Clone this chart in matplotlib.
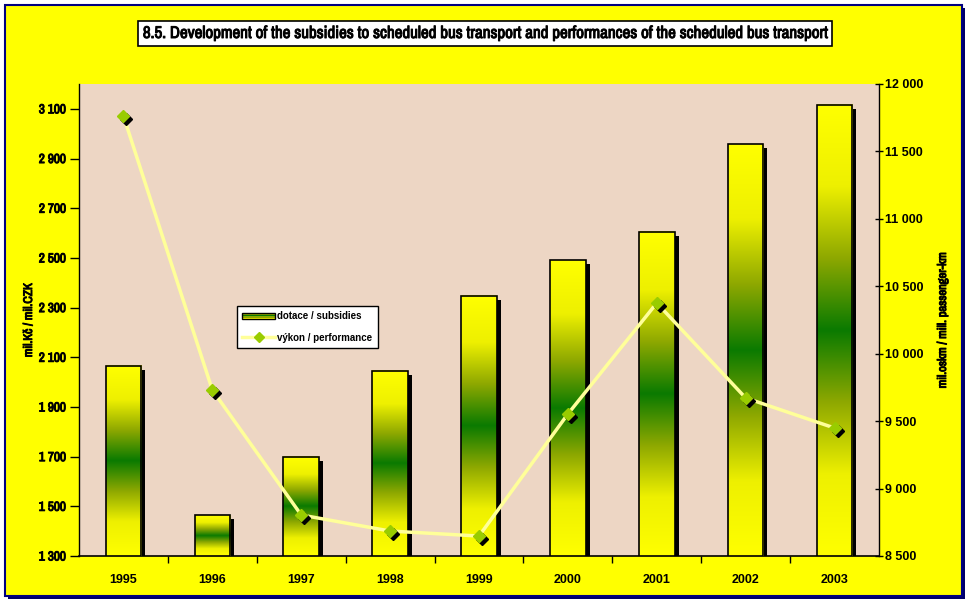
import numpy as np
import matplotlib
matplotlib.use('Agg')
import matplotlib.pyplot as plt
import matplotlib.patheffects as pe
from matplotlib import font_manager
from matplotlib.colors import LinearSegmentedColormap
from matplotlib.patches import Rectangle, Patch
from matplotlib.lines import Line2D
from matplotlib.legend_handler import HandlerBase
from matplotlib.transforms import ScaledTranslation
from matplotlib.ticker import FuncFormatter

# data
years = ['1995', '1996', '1997', '1998', '1999', '2000', '2001', '2002', '2003']
subsidies = [2065, 1465, 1700, 2045, 2347, 2490, 2605, 2957, 3117]
performance = [11763, 9731, 8804, 8685, 8648, 9553, 10376, 9672, 9449]

# look for a narrow / condensed face
fonts = font_manager.fontManager.ttflist
narrow = None
for f in fonts:
    if 'Narrow' in f.name:
        narrow = f.name
        break
if narrow is None:
    narrow = 'DejaVu Sans'
wide = 'Liberation Sans'
plt.rcParams['font.family'] = [wide, 'DejaVu Sans']
plt.rcParams['font.weight'] = 'bold'

bold_fx = [pe.withStroke(linewidth=0.7, foreground='black')]

fig = plt.figure(figsize=(9.7, 6.04), dpi=100)
fig.patch.set_facecolor('white')

# yellow frame with navy border + shadow
px = 1 / 970
py = 1 / 604
fig.patches.append(Rectangle((8 * px, 1 - 599 * py), 957 * px, 591 * py,
                             transform=fig.transFigure, facecolor='#000066',
                             edgecolor='none', zorder=-20))
fig.patches.append(Rectangle((5 * px, 1 - 596 * py), 957 * px, 591 * py,
                             transform=fig.transFigure, facecolor='#FFFF00',
                             edgecolor='#000080', linewidth=1.5, zorder=-10))

ax = fig.add_axes([79 / 970, 1 - 556 / 604, 800 / 970, 472 / 604])
ax.set_facecolor('#EDD6C4')

cmap = LinearSegmentedColormap.from_list('bar', [
    (0.0, '#FFFF00'), (0.18, '#EEF000'), (0.34, '#8EA800'),
    (0.5, '#0A7A00'), (0.66, '#8EA800'), (0.82, '#EEF000'), (1.0, '#FFFF00')])
grad = np.linspace(0, 1, 256).reshape(-1, 1)

bw = 0.4
shadow = ax.transData + ScaledTranslation(4 / 100, -4 / 100, fig.dpi_scale_trans)
for i, v in enumerate(subsidies):
    ax.add_patch(Rectangle((i - bw / 2, 1300), bw, v - 1300, transform=shadow,
                           facecolor='black', edgecolor='none', zorder=2))
    ax.imshow(grad, cmap=cmap, aspect='auto', extent=(i - bw / 2, i + bw / 2, 1300, v),
              zorder=3, interpolation='bilinear')
    ax.add_patch(Rectangle((i - bw / 2, 1300), bw, v - 1300, facecolor='none',
                           edgecolor='black', linewidth=1.2, zorder=4))
ax.set_xlim(-0.5, len(years) - 0.5)
ax.set_ylim(1300, 3200)

thousands = FuncFormatter(lambda v, p: f'{int(v):,}'.replace(',', ' '))
ax.set_yticks(np.arange(1300, 3101, 200))
ax.yaxis.set_major_formatter(thousands)
ax.set_xticks(range(len(years)))
ax.set_xticklabels(years)
ax.set_xticks(np.arange(0.5, len(years) - 1, 1), minor=True)
ax.tick_params(axis='x', which='major', length=0, pad=13, labelsize=9)
ax.tick_params(axis='x', which='minor', length=5, direction='out', width=1)
ax.tick_params(axis='y', length=6.5, width=1, labelsize=9.5, pad=3)
for t in ax.get_yticklabels():
    t.set_fontfamily([narrow, 'DejaVu Sans'])
    t.set_path_effects(bold_fx)
for s in ['top', 'right']:
    ax.spines[s].set_visible(False)
ax.spines['left'].set_linewidth(1)
ax.spines['bottom'].set_linewidth(1.2)
ax.set_ylabel('mil.Kč / mil.CZK', fontsize=9, fontweight='bold',
              family=[narrow, 'DejaVu Sans'], path_effects=bold_fx)
ax.yaxis.set_label_coords(-45 / 800, 0.5)

ax2 = ax.twinx()
ax2.set_ylim(8500, 12000)
ax2.set_yticks(np.arange(8500, 12001, 500))
ax2.yaxis.set_major_formatter(thousands)
ax2.tick_params(axis='y', length=6, width=1, direction='inout', labelsize=9, pad=1)
for s in ['top', 'left', 'bottom']:
    ax2.spines[s].set_visible(False)
ax2.spines['right'].set_linewidth(1)
ax2.set_ylabel('mil.oskm / mill. passenger-km', fontsize=9, fontweight='bold',
               family=[narrow, 'DejaVu Sans'], path_effects=bold_fx)
ax2.yaxis.set_label_coords(1 + 58 / 800, 0.5)

x = np.arange(len(years))
ax2.plot(x, performance, color='#FFFF99', linewidth=2.5, zorder=5)
mshadow = ax2.transData + ScaledTranslation(3 / 100, -3 / 100, fig.dpi_scale_trans)
ax2.plot(x, performance, linestyle='none', marker='D', markersize=6,
         color='black', transform=mshadow, zorder=6)
ax2.plot(x, performance, linestyle='none', marker='D', markersize=6.5,
         color='#99CC00', markeredgecolor='#99CC00', zorder=7)


class GradientPatchHandler(HandlerBase):
    def create_artists(self, legend, orig_handle, xdescent, ydescent,
                       width, height, fontsize, trans):
        stripes = ['#FFFF00', '#8EA800', '#0A7A00', '#8EA800', '#FFFF00']
        h = height * 0.8
        y0 = -ydescent + (height - h) / 2
        arts = []
        for k, c in enumerate(stripes):
            arts.append(Rectangle((-xdescent, y0 + k * h / 5), width, h / 5,
                                  facecolor=c, edgecolor='none', transform=trans))
        arts.append(Rectangle((-xdescent, y0), width, h, facecolor='none',
                              edgecolor='black', linewidth=1, transform=trans))
        return arts


handles = [Patch(facecolor='#6E9C00', edgecolor='black'),
           Line2D([0], [0], color='#FFFF99', linewidth=2.5, marker='D',
                  markersize=5, markerfacecolor='#99CC00', markeredgecolor='#99CC00')]
leg = ax2.legend(handles, ['dotace / subsidies', 'výkon / performance'],
                 loc='upper left', bbox_to_anchor=(158 / 800, 250 / 472), fontsize=7,
                 frameon=True, fancybox=False, edgecolor='black', framealpha=1,
                 handlelength=3.4, handletextpad=0.2, borderpad=0.55, labelspacing=1.15,
                 borderaxespad=0, handler_map={Patch: GradientPatchHandler()})
leg.get_frame().set_linewidth(1)

fig.text(0.5, 1 - 33.5 / 604,
         '8.5. Development of the subsidies to scheduled bus transport and performances of the scheduled bus transport',
         ha='center', va='center', fontsize=12.2, fontweight='bold',
         family=[narrow, 'DejaVu Sans'], path_effects=bold_fx,
         bbox=dict(boxstyle='square,pad=0.3', facecolor='white', edgecolor='black', linewidth=1.2))

fig.savefig('out.png', dpi=100)
